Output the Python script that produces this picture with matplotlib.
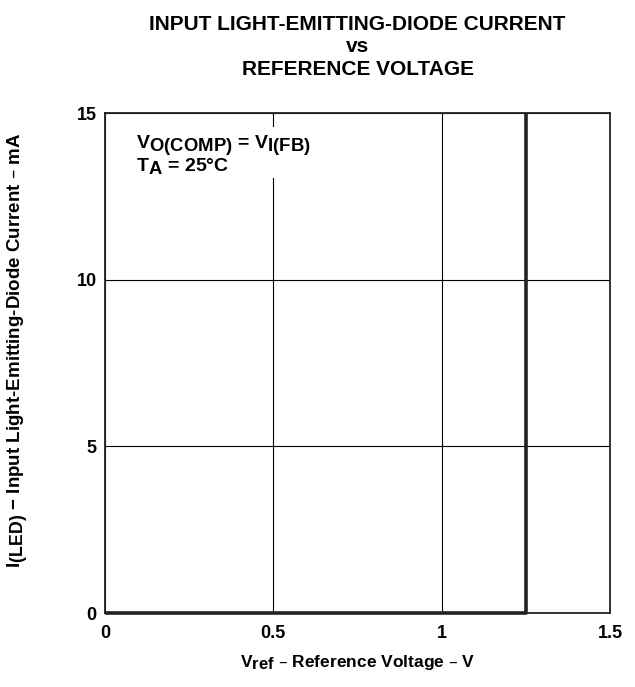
import matplotlib
matplotlib.use("Agg")
import matplotlib.pyplot as plt
import matplotlib._mathtext as _mt

_mt.SHRINK_FACTOR = 0.95  # larger subscripts, as in the reference

plt.rcParams['font.family'] = ['Liberation Sans', 'DejaVu Sans']
plt.rcParams['font.weight'] = 'bold'
plt.rcParams['mathtext.default'] = 'regular'

# Data
vref = [0, 1.25, 1.25]
iled = [0, 0, 15]
xticks = [0, 0.5, 1, 1.5]
xtick_labels = ['0', '0.5', '1', '1.5']
yticks = [0, 5, 10, 15]
ytick_labels = ['0', '5', '10', '15']

fig = plt.figure(figsize=(6.35, 6.87), dpi=100)
ax = fig.add_axes([105/635, 1-613/687, 505/635, 500/687])

ax.set_xlim(0, 1.5)
ax.set_ylim(0, 15)
ax.set_xticks(xticks)
ax.set_xticklabels(xtick_labels, fontsize=13, fontweight='bold')
ax.set_yticks(yticks)
ax.set_yticklabels(ytick_labels, fontsize=13, fontweight='bold')
ax.tick_params(length=0)
ax.tick_params(axis='x', pad=9)
ax.tick_params(axis='y', pad=6)
ax.grid(True, color='black', linewidth=0.8)
ax.set_axisbelow(True)
for s in ax.spines.values():
    s.set_linewidth(1.3)
    s.set_color('#222222')

ax.plot(vref, iled, color='#222222', linewidth=2.6, solid_capstyle='butt',
        clip_on=False, zorder=3)

ax.text(0.093, 13.75, r'V$_{O(COMP)}$ = V$_{I(FB)}$' + '\n' + r'T$_A$ = 25°C',
        fontsize=14, fontweight='bold', va='center', ha='left', linespacing=0.85,
        bbox=dict(facecolor='white', edgecolor='none', pad=2), zorder=4)

ax.set_xlabel(r'V$_{ref}$ – Reference Voltage – V', fontsize=12.5, fontweight='bold',
              va='center')
ax.xaxis.set_label_coords(0.5, (613-663)/500)
ax.set_ylabel(r'I$_{(LED)}$ − Input Light-Emitting-Diode Current – mA', fontsize=13.5,
              fontweight='bold', va='center')
ax.yaxis.set_label_coords((18-105)/505, (613-350)/500)

fig.text(357.5/635, 1-47/687, 'INPUT LIGHT-EMITTING-DIODE CURRENT\nvs\nREFERENCE VOLTAGE',
         ha='center', va='center', fontsize=15, fontweight='bold', linespacing=1.22)

fig.savefig('out.png', dpi=100)
